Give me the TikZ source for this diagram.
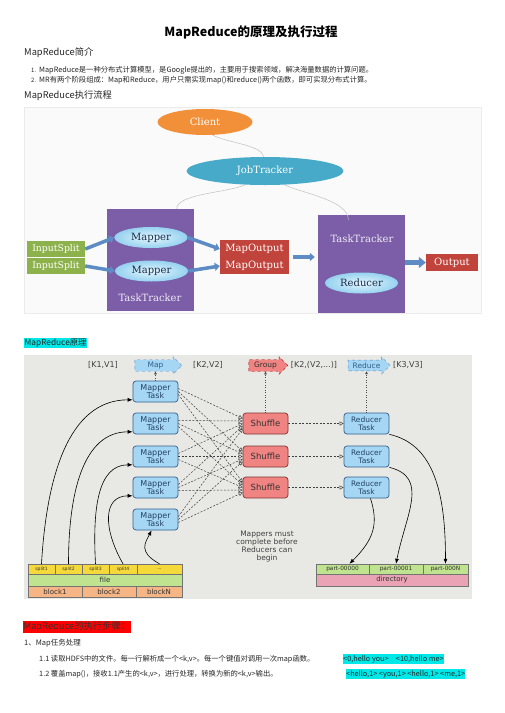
\documentclass[tikz,border=0pt]{standalone}
\usepackage{xcolor}
\usepackage{fontspec}
\setmainfont{Noto Sans CJK SC}
\newfontfamily\diagserif{DejaVu Serif}
\newfontfamily\diagsans{DejaVu Sans}
\usetikzlibrary{shapes,arrows.meta,positioning,calc}
\definecolor{clientorange}{RGB}{242, 144, 58}
\definecolor{jobteal}{RGB}{70, 170, 200}
\definecolor{trackerpurple}{RGB}{123, 94, 167}
\definecolor{splitgreen}{RGB}{141, 178, 75}
\definecolor{outred}{RGB}{192, 68, 60}
\definecolor{flowblue}{RGB}{93, 139, 196}
\definecolor{mapperin}{RGB}{228, 246, 253}
\definecolor{mapperout}{RGB}{150, 210, 240}
\definecolor{navytext}{RGB}{28, 42, 74}
\definecolor{taskblue}{RGB}{165, 214, 244}
\definecolor{taskedge}{RGB}{50, 95, 140}
\definecolor{shufflered}{RGB}{239, 132, 130}
\definecolor{shuffleedge}{RGB}{126, 53, 51}
\definecolor{panelgray}{RGB}{232, 232, 228}
\definecolor{rowyellow}{RGB}{245, 217, 58}
\definecolor{rowgreen}{RGB}{191, 227, 142}
\definecolor{roworange}{RGB}{245, 181, 133}
\definecolor{rowpink}{RGB}{233, 163, 180}
\definecolor{marker}{RGB}{0, 232, 232}

\begin{document}
\begin{tikzpicture}[x=1pt, y=-1pt,
    every node/.style={inner sep=0pt},
    pagetext/.style={anchor=west, text=black!85, font=\fontsize{7.3}{9}\selectfont},
    sectionhead/.style={anchor=west, text=black!85, font=\fontsize{9.3}{11}\selectfont},
    oval/.style={ellipse, text=white, font=\diagserif\fontsize{10}{11}\selectfont},
    trackerbox/.style={rectangle, fill=trackerpurple, minimum width=87},
    trackerlabel/.style={text=white!88!trackerpurple, font=\diagserif\fontsize{10}{11}\selectfont},
    mapperoval/.style={ellipse, inner color=mapperin, outer color=mapperout, minimum width=73, minimum height=21, text=navytext, font=\diagserif\fontsize{10}{11}\selectfont},
    redtag/.style={rectangle, fill=outred, text=white, align=center, font=\diagserif\fontsize{10}{17}\selectfont},
    greentag/.style={rectangle, fill=splitgreen, text=white, minimum width=58, minimum height=16, font=\diagserif\fontsize{9.3}{10}\selectfont},
    flowarrow/.style={draw=flowblue, line width=3.5pt, -{Triangle[length=5pt,width=8pt]}},
    trackline/.style={draw=black!25, line width=0.5pt},
    kvlabel/.style={text=black!75, font=\diagsans\fontsize{8}{9}\selectfont},
    stepblue/.style={single arrow, single arrow head extend=3pt, fill=taskblue, draw=flowblue, dashed, inner xsep=3pt, inner ysep=2pt, minimum width=17, text=taskedge, font=\diagsans\fontsize{7.5}{8}\selectfont},
    stepred/.style={stepblue, fill=shufflered, draw=red!65!black, text=black!80},
    maptask/.style={rectangle, rounded corners=3pt, fill=taskblue, draw=taskedge, line width=0.7pt, minimum width=45, minimum height=21, align=center, text=taskedge!70!black, font=\diagsans\fontsize{8}{8}\selectfont},
    shuffle/.style={maptask, fill=shufflered, draw=shuffleedge, text=black!80, font=\diagsans\fontsize{8.5}{9}\selectfont},
    shufflelink/.style={draw=black!75, line width=0.5pt, dash pattern=on 2pt off 1.5pt, -{Triangle[open,length=4pt,width=4pt]}},
    upmark/.style={draw=black!70, line width=0.5pt, dotted, -{Latex[length=3pt,width=3pt]}},
    feedcurve/.style={draw=black, line width=0.6pt, -{Latex[length=5pt,width=4pt]}},
    storecell/.style={rectangle, draw=black!55, line width=0.4pt, text=black!80, font=\diagsans\fontsize{7}{8}\selectfont},
    splitcell/.style={storecell, fill=rowyellow, minimum height=10, font=\diagsans\fontsize{4.5}{5}\selectfont},
    partcell/.style={storecell, fill=rowgreen, minimum height=10, font=\diagsans\fontsize{5.8}{6}\selectfont}
]
    \useasboundingbox (0,0) rectangle (504,713);
    \fill[white] (0,0) rectangle (504,713);

    % Page text
    \node[font=\fontsize{12.5}{14}\selectfont\bfseries] (title) at (251,32) {MapReduce的原理及执行过程};
    \node[sectionhead] (intro_head) at (24,53) {MapReduce简介};
    \node[pagetext, font=\fontsize{6}{7}\selectfont] (item1_num) at (31,70) {1.};
    \node[pagetext] (item1) at (39,70) {MapReduce是一种分布式计算模型，是Google提出的，主要用于搜索领域，解决海量数据的计算问题。};
    \node[pagetext, font=\fontsize{6}{7}\selectfont] (item2_num) at (31,80) {2.};
    \node[pagetext] (item2) at (39,80) {MR有两个阶段组成：Map和Reduce，用户只需实现map()和reduce()两个函数，即可实现分布式计算。};
    \node[sectionhead] (flow_head) at (24,96) {MapReduce执行流程};

    % Diagram 1: JobTracker / TaskTracker
    \draw[fill=black!2, draw=black!8] (24,107) rectangle (481,313);
    \node[oval, fill=clientorange, minimum width=95, minimum height=26] (client) at (205,122) {Client};
    \node[oval, fill=jobteal, minimum width=157, minimum height=28] (jobtracker) at (265,171) {JobTracker};
    \node[trackerbox, minimum height=102] (tt_left) at (150.5,260) {};
    \node[trackerbox, minimum height=98] (tt_right) at (361.5,264) {};
    \node[trackerlabel] (tt_left_label) at (150,298) {TaskTracker};
    \node[trackerlabel] (tt_right_label) at (362,239) {TaskTracker};
    \node[mapperoval] (mapper1) at (151,237.5) {Mapper};
    \node[mapperoval] (mapper2) at (151.5,271) {Mapper};
    \node[mapperoval] (reducer) at (361.5,283) {Reducer};
    \node[greentag] (split1) at (56,249) {InputSplit};
    \node[greentag] (split2) at (56,266) {InputSplit};
    \node[redtag, minimum width=69, minimum height=34] (mapout) at (254.5,257) {MapOutput\\MapOutput};
    \node[redtag, minimum width=52, minimum height=17] (output) at (452,262.5) {Output};

    \draw[trackline] (client.-60) .. controls +(15,8) and +(-2,-12) .. (jobtracker.95);
    \draw[trackline] (jobtracker.-145) .. controls +(-18,8) and +(0,-15) .. ($(tt_left.north west)!0.8!(tt_left.north east)$);
    \draw[trackline] (jobtracker.-35) .. controls +(15,8) and +(0,-20) .. ($(tt_right.north west)!0.35!(tt_right.north east)+(0,5)$);

    \draw[flowarrow] (split1.east) -- (mapper1.west);
    \draw[flowarrow] (split2.east) -- (mapper2.west);
    \draw[flowarrow] (mapper1.east) -- ($(mapout.west)+(0,-8)$);
    \draw[flowarrow] (mapper2.east) -- ($(mapout.west)+(0,9)$);
    \draw[flowarrow, shorten <=4pt, shorten >=3pt] (mapout.east) -- (mapout.east -| tt_right.west);
    \draw[flowarrow, line width=5pt, -{Triangle[length=7pt,width=11pt]}] (tt_right.east |- output) -- (output.west);

    % Section heading 2
    \node[anchor=west, fill=marker, inner xsep=0.5pt, inner ysep=1pt, text=black!85, font=\fontsize{8.3}{10}\selectfont] (principle_head) at (24,343) {MapReduce原理};

    % Diagram 2: data flow
    \fill[panelgray] (24,355) rectangle (472,599);
    \node[kvlabel] (kv1) at (103,365) {[K1,V1]};
    \node[stepblue, minimum height=47] (map_step) at (155.5,365.5) {Map};
    \node[kvlabel] (kv2) at (208,365) {[K2,V2]};
    \node[stepred, minimum height=39] (group_step) at (265.5,365.5) {Group};
    \node[kvlabel] (kv2list) at (314,365) {[K2,(V2,...)]};
    \node[stepblue, minimum height=42] (reduce_step) at (366.5,365.5) {Reduce};
    \node[kvlabel] (kv3) at (408,365) {[K3,V3]};

    \foreach \i/\y in {1/391.5, 2/423.5, 3/456.5, 4/487.5, 5/519.5}
        \node[maptask] (mt\i) at (155.5,\y) {Mapper\\Task};
    \foreach \j/\y in {1/423.5, 2/456.5, 3/487.5} {
        \node[shuffle] (sh\j) at (265.5,\y) {Shuffle};
        \node[maptask, font=\diagsans\fontsize{7.5}{8}\selectfont] (rt\j) at (366.5,\y) {Reducer\\Task};
    }

    \foreach \i in {1,...,5}
        \foreach \j in {1,2,3}
            \draw[shufflelink] ($(mt\i.east)+(0,{(\j-2)*3})$) -- ($(sh\j.west)+(0,{(\i-3)*2.5})$);
    \foreach \j in {1,2,3}
        \draw[shufflelink] (sh\j) -- (rt\j);

    \draw[upmark] (mt1) -- (map_step);
    \draw[upmark] (sh1) -- (group_step);
    \draw[upmark] (rt1) -- (reduce_step);

    % Input file
    \node[splitcell, minimum width=27] (sp1) at (41.5,569) {split1};
    \node[splitcell, minimum width=27] (sp2) at (68.5,569) {split2};
    \node[splitcell, minimum width=27] (sp3) at (95.5,569) {split3};
    \node[splitcell, minimum width=28] (sp4) at (123,569) {split4};
    \node[splitcell, minimum width=45] (sp_more) at (159.5,569) {...};
    \node[storecell, fill=rowgreen, minimum width=154, minimum height=12] (file) at (105,580) {file};
    \node[storecell, fill=roworange, minimum width=54, minimum height=11] (blk1) at (55,591.5) {block1};
    \node[storecell, fill=roworange, minimum width=54, minimum height=11] (blk2) at (109,591.5) {block2};
    \node[storecell, fill=roworange, minimum width=46, minimum height=11] (blkN) at (159,591.5) {blockN};

    % Output directory
    \node[partcell, minimum width=53] (part0) at (342.5,569) {part-00000};
    \node[partcell, minimum width=54] (part1) at (396,569) {part-00001};
    \node[partcell, minimum width=45] (partN) at (445.5,569) {part-000N};
    \node[storecell, fill=rowpink, minimum width=152, minimum height=12] (directory) at (392,580) {directory};

    \draw[feedcurve] (sp1.north) .. controls +(5,-85) and +(-65,0) .. (mt1.200);
    \draw[feedcurve] (sp2.north) .. controls +(0,-70) and +(-50,0) .. (mt2.200);
    \draw[feedcurve] (sp3.north) .. controls +(-3,-55) and +(-35,0) .. (mt3.200);
    \draw[feedcurve] (sp4.north) .. controls +(-20,-35) and +(-30,0) .. (mt4.200);
    \draw[feedcurve] (sp_more.north) .. controls +(-22,-12) and +(-6,12) .. (mt5.-110);

    \draw[feedcurve] (rt1.south east) .. controls +(45,10) and +(0,-70) .. (partN.north);
    \draw[feedcurve] (rt2.south east) .. controls +(40,10) and +(10,-50) .. (part1.north);
    \draw[feedcurve] (rt3.-70) .. controls +(8,25) and +(25,-25) .. ($(part0.north)+(7,0)$);

    \node[align=center, text=black!75, font=\diagsans\fontsize{7.5}{8}\selectfont] (note) at (267,547) {Mappers must\\complete before\\Reducers can\\begin};

    % Steps text
    \node[anchor=west, fill=red, inner xsep=0.5pt, inner ysep=1pt, text=black!80, font=\fontsize{9.3}{11}\selectfont] (steps_head) at (23,627) {MapReduce的执行步骤：};
    \node[pagetext, font=\fontsize{7.5}{9}\selectfont] (map_task_head) at (24,643) {1、Map任务处理};
    \node[pagetext] (step11) at (39,659) {1.1 读取HDFS中的文件。每一行解析成一个<k,v>。每一个键值对调用一次map函数。};
    \node[pagetext, fill=marker, inner ysep=1.5pt] (sample11) at (343,659) {<0,hello you>\quad<10,hello me>};
    \node[pagetext] (step12) at (39,674) {1.2 覆盖map()，接收1.1产生的<k,v>，进行处理，转换为新的<k,v>输出。};
    \node[pagetext, fill=marker, inner ysep=1.5pt] (sample12) at (346,674) {<hello,1> <you,1> <hello,1> <me,1>};
\end{tikzpicture}
\end{document}
